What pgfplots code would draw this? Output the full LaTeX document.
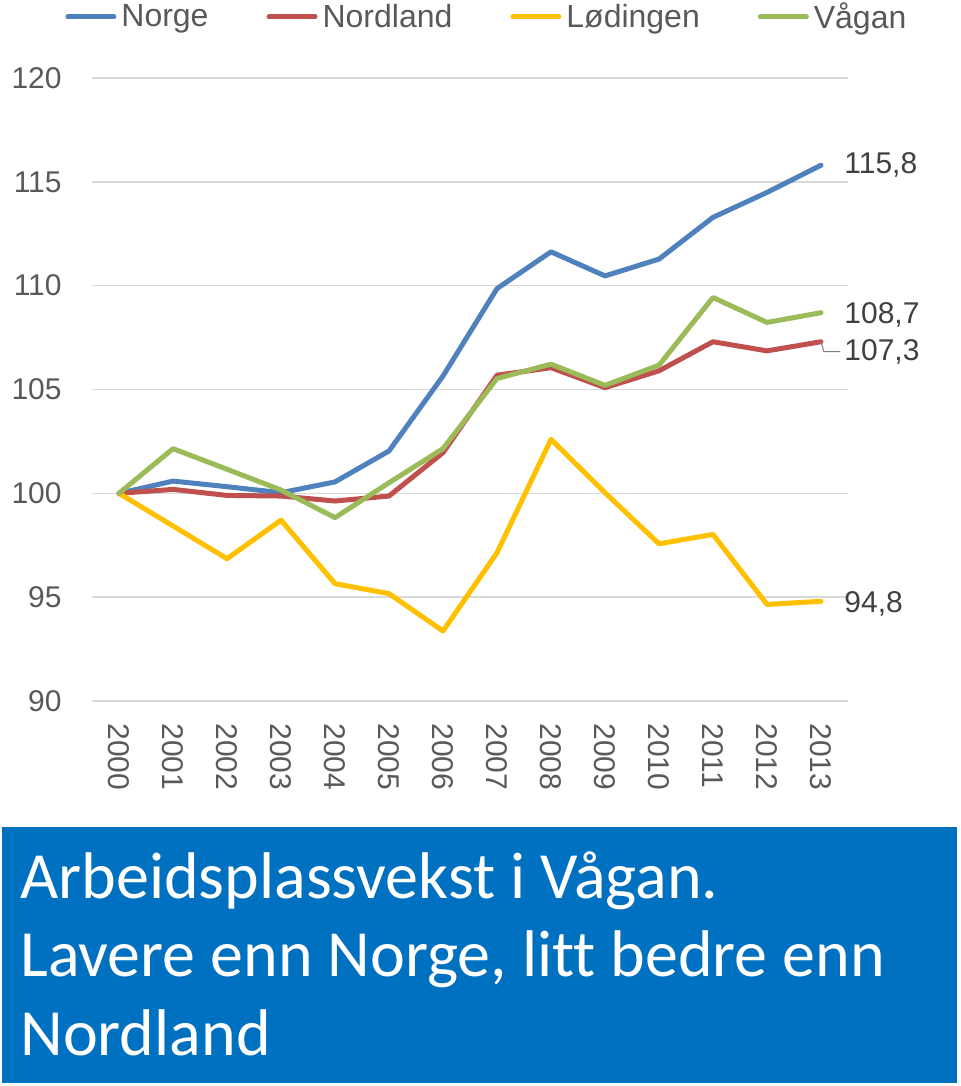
\documentclass[border=0pt]{standalone}
\usepackage{pgfplots}
\pgfplotsset{compat=1.18}
\usepackage{fontspec}
\setmainfont{Liberation Sans}
\newfontfamily\calibri[Ligatures=NoCommon]{Carlito}
\definecolor{cNorge}{HTML}{4F81BD}
\definecolor{cNordland}{HTML}{C0504D}
\definecolor{cLod}{HTML}{FFC000}
\definecolor{cVagan}{HTML}{9BBB59}
\definecolor{cGrid}{HTML}{D9D9D9}
\definecolor{cTick}{HTML}{595959}
\definecolor{cLab}{HTML}{404040}
\definecolor{cBox}{HTML}{0070C0}
\begin{document}
\begin{tikzpicture}
\useasboundingbox (0,0) rectangle (480pt,-543pt);
\fill[cBox] (1pt,-413.7pt) rectangle (478.3pt,-541.5pt);
\begin{axis}[
  at={(46pt,-39pt)}, anchor=north west,
  scale only axis, width=378pt, height=311.5pt,
  clip=false,
  xmin=-0.5, xmax=13.5, ymin=90, ymax=120,
  xtick={0,...,13},
  xticklabels={2000,2001,2002,2003,2004,2005,2006,2007,2008,2009,2010,2011,2012,2013},
  ytick={90,95,...,120},
  major tick length=0pt,
  axis line style={draw=none},
  ymajorgrids, grid style={cGrid, line width=0.75pt},
  /pgf/number format/assume math mode=true,
  tick label style={font=\fontsize{15}{18}\selectfont, text=cTick, inner sep=0pt},
  yticklabel style={anchor=east},
  yticklabel shift=15pt,
  xticklabel style={rotate=-90, anchor=west},
  xticklabel shift=11pt,
  legend columns=4,
  legend style={at={(0,1)}, anchor=west, xshift=-13.5pt, yshift=30.5pt,
    draw=none, fill=none, inner sep=0pt,
    font=\fontsize{16}{19}\selectfont, text=cTick,
    nodes={inner sep=0pt, anchor=west},
    /tikz/every odd column/.append style={column sep=2.5pt},
    /tikz/every even column/.append style={column sep=29pt}},
  legend image code/.code={\draw[#1] (0pt,0pt) -- (23pt,0pt);},
  every axis plot/.append style={line width=2.5pt, line join=round, line cap=round},
]
\addplot[cNorge] coordinates {(0,100) (1,100.59) (2,100.32) (3,100.03) (4,100.55) (5,102.04) (6,105.65) (7,109.86) (8,111.63) (9,110.47) (10,111.28) (11,113.29) (12,114.49) (13,115.8)};
\addlegendentry{Norge}
\addplot[cNordland] coordinates {(0,100) (1,100.19) (2,99.9) (3,99.87) (4,99.63) (5,99.87) (6,101.96) (7,105.69) (8,106.05) (9,105.09) (10,105.9) (11,107.3) (12,106.86) (13,107.3)};
\addlegendentry{Nordland}
\addplot[cLod] coordinates {(0,100) (1,98.43) (2,96.85) (3,98.71) (4,95.65) (5,95.17) (6,93.37) (7,97.14) (8,102.6) (9,100.03) (10,97.57) (11,98.02) (12,94.65) (13,94.8)};
\addlegendentry{Lødingen}
\addplot[cVagan] coordinates {(0,100) (1,102.15) (2,101.16) (3,100.16) (4,98.83) (5,100.51) (6,102.15) (7,105.53) (8,106.22) (9,105.2) (10,106.17) (11,109.43) (12,108.23) (13,108.7)};
\addlegendentry{Vågan}
\begin{scope}[every node/.style={anchor=west, inner sep=0pt, text=cLab, font=\fontsize{15}{18}\selectfont}]
\node at (axis cs:13,115.8) [xshift=11.5pt] {115,8};
\node at (axis cs:13,108.7) [xshift=11.5pt, yshift=-1pt] {108,7};
\node at (axis cs:13,106.8) [xshift=11.5pt] {107,3};
\node at (axis cs:13,94.65) [xshift=11.5pt] {94,8};
\end{scope}
\draw[gray, line width=0.5pt] (axis cs:13,107.3) -- ++(1.5pt,-5pt) -- ++(8pt,0pt);
\end{axis}
\begin{scope}[every node/.style={anchor=base west, inner sep=0pt, text=white, font=\calibri\fontsize{33}{39}\selectfont}]
\node at (10pt,-449pt) {Arbeidsplassvekst i Vågan.};
\node at (10pt,-488.3pt) {Lavere enn Norge, litt bedre enn};
\node at (10pt,-527.5pt) {Nordland};
\end{scope}
\end{tikzpicture}
\end{document}
